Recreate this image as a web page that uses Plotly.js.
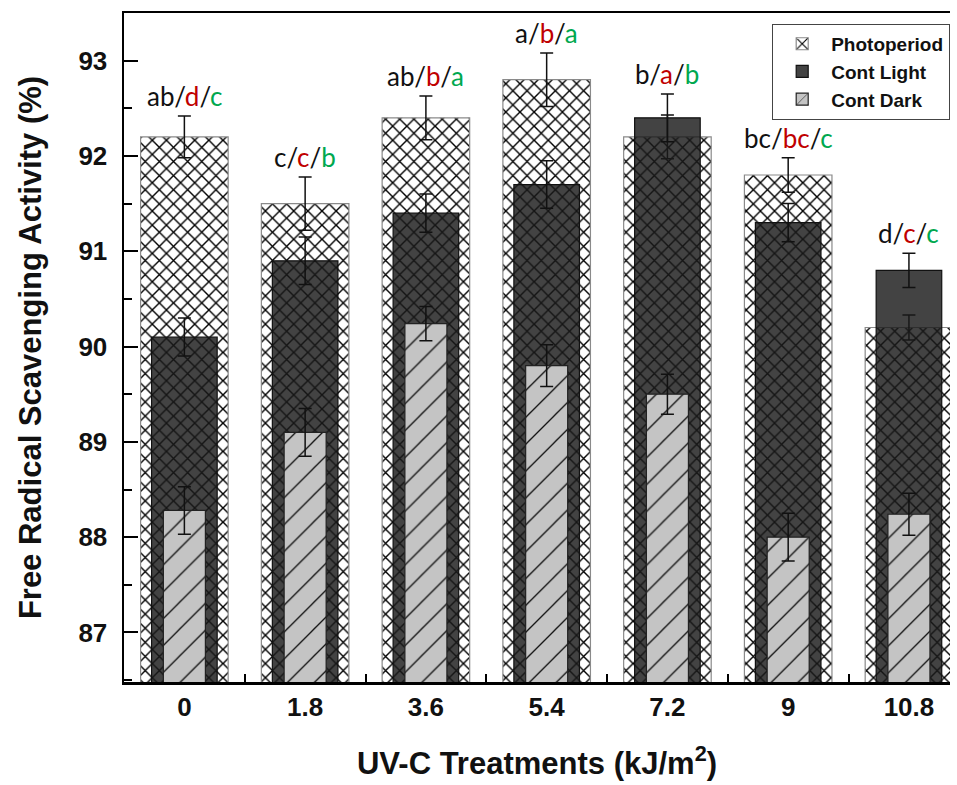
<!DOCTYPE html>
<html>
<head>
<meta charset="utf-8">
<script src="https://cdn.plot.ly/plotly-3.0.1.min.js"></script>
<style>html,body{margin:0;padding:0;background:#fff;}#chart{width:957px;height:785px;}</style>
</head>
<body>
<div id="chart"></div>
<script>
const categories = ['0', '1.8', '3.6', '5.4', '7.2', '9', '10.8'];
const photoperiod = [92.2, 91.5, 92.4, 92.8, 92.2, 91.8, 90.2];
const photoperiodErr = [0.22, 0.28, 0.23, 0.28, 0.23, 0.18, 0.13];
const contLight = [90.1, 90.9, 91.4, 91.7, 92.4, 91.3, 90.8];
const contLightErr = [0.2, 0.25, 0.2, 0.25, 0.25, 0.2, 0.18];
const contDark = [88.28, 89.1, 90.24, 89.8, 89.5, 88.0, 88.24];
const contDarkErr = [0.25, 0.25, 0.18, 0.22, 0.21, 0.25, 0.22];
const letterP = ['ab', 'c', 'ab', 'a', 'b', 'bc', 'd'];
const letterL = ['d', 'c', 'b', 'b', 'a', 'bc', 'c'];
const letterD = ['c', 'b', 'a', 'a', 'b', 'c', 'c'];

const errStyle = (arr) => ({type: 'data', array: arr, visible: true, color: '#111', thickness: 1.5, width: 6.5});

const traces = [
  {
    type: 'bar', name: 'Photoperiod', x: categories, y: photoperiod,
    width: categories.map(() => 0.725),
    marker: {color: '#000', line: {color: '#8a8a8a', width: 1.2},
      pattern: {shape: 'x', bgcolor: '#ffffff', fgcolor: '#000000', size: 10, solidity: 0.26, fillmode: 'replace'}},
    error_y: errStyle(photoperiodErr)
  },
  {
    type: 'bar', name: 'Cont Light', x: categories, y: contLight,
    width: categories.map(() => 0.543),
    marker: {color: 'rgba(26,26,26,0.82)', line: {color: '#111', width: 1.2}},
    error_y: errStyle(contLightErr)
  },
  {
    type: 'bar', name: 'Cont Dark', x: categories, y: contDark,
    width: categories.map(() => 0.348),
    marker: {color: '#000', line: {color: '#222', width: 1.2},
      pattern: {shape: '/', bgcolor: '#c4c4c4', fgcolor: '#111', size: 19, solidity: 0.07, fillmode: 'replace'}},
    error_y: errStyle(contDarkErr)
  }
];

const annotations = categories.map((c, i) => {
  const top = Math.max(photoperiod[i] + photoperiodErr[i], contLight[i] + contLightErr[i], contDark[i] + contDarkErr[i]);
  return {
    x: i, y: top, xref: 'x', yref: 'y', yanchor: 'bottom', yshift: 2, showarrow: false,
    text: letterP[i] + '/<span style="color:#c00000">' + letterL[i] + '</span>/<span style="color:#00a84f">' + letterD[i] + '</span>',
    font: {family: 'Lato, Open Sans, sans-serif', size: 26, color: '#111'}
  };
});

const boldFont = (s) => ({family: 'Liberation Sans, Arial, sans-serif', size: s, color: '#111', weight: 700});

const layout = {
  width: 957, height: 785,
  margin: {l: 124, r: 7, t: 13, b: 103},
  paper_bgcolor: '#fff', plot_bgcolor: '#fff',
  barmode: 'overlay',
  showlegend: true,
  legend: {
    x: 1, xanchor: 'right', y: 0.984, yanchor: 'top',
    bgcolor: '#fff', bordercolor: '#444', borderwidth: 1.2, itemwidth: 48,
    font: boldFont(19), tracegroupgap: 0, traceorder: 'normal'
  },
  xaxis: {
    type: 'category', range: [-0.5, 6.34],
    showline: true, linecolor: '#000', linewidth: 2.5, mirror: true,
    ticks: 'inside', tickson: 'boundaries', ticklen: 8, tickwidth: 2, tickcolor: '#000',
    tickfont: boldFont(26), ticklabelstandoff: 0,
    showgrid: false, zeroline: false,
    title: {text: 'UV-C Treatments (kJ/m<sup>2</sup>)', font: boldFont(31), standoff: 32}
  },
  yaxis: {
    range: [86.48, 93.5], tickmode: 'linear', tick0: 87, dtick: 1,
    showline: true, linecolor: '#000', linewidth: 2.5, mirror: false,
    ticks: 'inside', ticklen: 14, tickwidth: 2, tickcolor: '#000',
    minor: {dtick: 0.5, ticks: 'inside', ticklen: 8, tickwidth: 2, tickcolor: '#000', showgrid: false},
    tickfont: boldFont(26), ticklabelstandoff: 9,
    showgrid: false, zeroline: false,
    title: {text: 'Free Radical Scavenging Activity (%)', font: boldFont(31), standoff: 28}
  },
  annotations: annotations
};

Plotly.newPlot('chart', traces, layout, {displayModeBar: false, staticPlot: true});
</script>
</body>
</html>
